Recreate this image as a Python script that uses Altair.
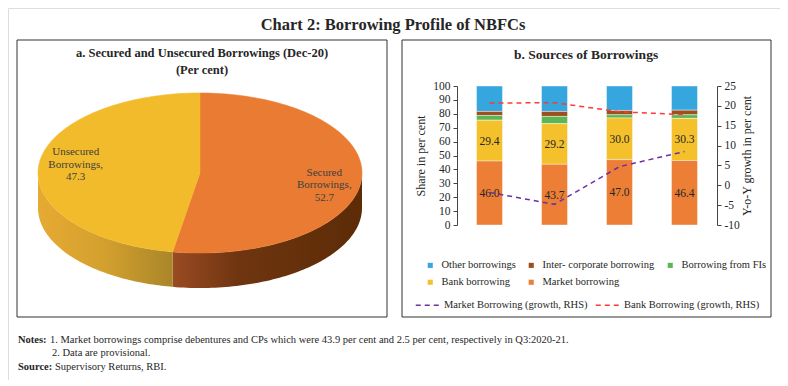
import altair as alt
import numpy as np
import pandas as pd

# ---------------- data ----------------
MONTHS = ["Mar-20", "Jun-20", "Sep-20", "Dec-20"]
SERIES = ["Other borrowings", "Inter- corporate borrowing", "Borrowing from FIs",
          "Bank borrowing", "Market borrowing"]
MARKET = [46.0, 43.7, 47.0, 46.4]
BANK = [29.4, 29.2, 30.0, 30.3]
FIS = [3.4, 5.2, 2.3, 2.6]
ICB = [2.9, 3.6, 3.1, 3.3]
OTHER = [18.3, 18.3, 17.6, 17.4]
LINE_NAMES = ["Market Borrowing (growth, RHS)", "Bank Borrowing (growth, RHS)"]
MKT_GROWTH = [-1.8, -4.8, 4.7, 8.5]
BANK_GROWTH = [20.7, 20.8, 18.5, 17.8]
PIE_NAMES = ["Secured\nBorrowings,", "Unsecured\nBorrowings,"]
PIE_VALUES = [52.7, 47.3]
LEFT_TICKS = list(range(0, 101, 10))
RIGHT_TICKS = list(range(-10, 26, 5))

# ---------------- style / layout ----------------
FONT = "Liberation Serif"
TXT = "#262626"
BAR_COLORS = ["#35a6de", "#9c4f20", "#5db653", "#f4c02c", "#ec7e36"]
LINE_COLORS = ["#7030a0", "#ff3838"]
PIE_TOP = ["#e97b33", "#f2bb2b"]
W, H = 772, 372
X0, X1, YT, YB = 449, 709, 78, 217
CX, CY, K = 192, 165, 162
RY, DEPTH = 0.494, 0.216

# ---------------- tables ----------------
cols = {"Other borrowings": OTHER, "Inter- corporate borrowing": ICB,
        "Borrowing from FIs": FIS, "Bank borrowing": BANK, "Market borrowing": MARKET}
stack_rank = {"Market borrowing": 1, "Bank borrowing": 2, "Borrowing from FIs": 3,
              "Inter- corporate borrowing": 4, "Other borrowings": 5}
bar_rows = []
for s in SERIES:
    for m, v in zip(MONTHS, cols[s]):
        bar_rows.append({"month": m, "series": s, "value": v, "rank": stack_rank[s]})
bar_df = pd.DataFrame(bar_rows)

lab_rows = []
for i, m in enumerate(MONTHS):
    lab_rows.append({"month": m, "mid": MARKET[i] / 2, "label": f"{MARKET[i]:.1f}"})
    lab_rows.append({"month": m, "mid": MARKET[i] + BANK[i] / 2, "label": f"{BANK[i]:.1f}"})
lab_df = pd.DataFrame(lab_rows)

line_rows = []
for name, vals in zip(LINE_NAMES, [MKT_GROWTH, BANK_GROWTH]):
    for i, (m, v) in enumerate(zip(MONTHS, vals)):
        line_rows.append({"month": m, "growth": v, "line": name, "idx": i})
line_df = pd.DataFrame(line_rows)

# ---------------- scales ----------------
def xs():
    return alt.Scale(type="band", domain=MONTHS, range=[X0, X1], paddingInner=0, paddingOuter=0)

def ys_left():
    return alt.Scale(domain=[0, 100], range=[YB, YT], nice=False)

def ys_right():
    return alt.Scale(domain=[-10, 25], range=[YB, YT], nice=False)

x_axis = alt.Axis(title=None, orient="bottom", offset=-(H - YB), labelAngle=0,
                  tickBand="extent", tickSize=4, labelPadding=3, labelFontSize=11.5,
                  labelFont=FONT, labelColor=TXT, domainColor="#444", tickColor="#444")

# ---------------- helpers ----------------
def text_at(txt, x, y, size, weight="normal", align="center"):
    return alt.Chart(pd.DataFrame({"t": [txt]})).mark_text(
        font=FONT, fontSize=size, fontWeight=weight, color=TXT, align=align, baseline="middle"
    ).encode(text="t:N", x=alt.value(x), y=alt.value(y))

def box(x1, x2, y1, y2):
    return alt.Chart(pd.DataFrame({"a": [0]})).mark_rect(
        filled=False, stroke="#333", strokeWidth=1
    ).encode(x=alt.value(x1), x2=alt.value(x2), y=alt.value(y1), y2=alt.value(y2))

def ept(t, drop=0.0):
    return [float(np.sin(t)), float(-RY * np.cos(t) + drop)]

def feature(ring):
    ring = ring + [ring[0]]
    return {"type": "Feature", "properties": {},
            "geometry": {"type": "Polygon", "coordinates": [ring]}}

proj = dict(type="identity", scale=K, translate=[CX, CY])

# ---------------- pie geometry from values ----------------
split = 2 * np.pi * PIE_VALUES[0] / sum(PIE_VALUES)
sec_top = feature([[0.0, 0.0]] + [ept(t) for t in np.linspace(0, split, 120)])
uns_top = feature([[0.0, 0.0]] + [ept(t) for t in np.linspace(split, 2 * np.pi, 120)])
a1 = np.linspace(np.pi / 2, split, 80)
sec_side = feature([ept(t) for t in a1] + [ept(t, DEPTH) for t in a1[::-1]])
a2 = np.linspace(split, 3 * np.pi / 2, 80)
uns_side = feature([ept(t) for t in a2] + [ept(t, DEPTH) for t in a2[::-1]])

def grad(stops):
    return alt.LinearGradient(gradient="linear", x1=0, x2=1, y1=0, y2=0,
                              stops=[alt.GradientStop(offset=o, color=c) for o, c in stops])

pie_layers = [
    alt.Chart(alt.Data(values=[sec_side])).mark_geoshape(
        fill=grad([(0, "#9a4b22"), (0.35, "#6e3510"), (1, "#5c2c06")]), strokeWidth=0
    ).project(**proj),
    alt.Chart(alt.Data(values=[uns_side])).mark_geoshape(
        fill=grad([(0, "#e6aa32"), (0.5, "#d3a02e"), (1, "#a9862a")]), strokeWidth=0
    ).project(**proj),
    alt.Chart(alt.Data(values=[sec_top])).mark_geoshape(
        fill=PIE_TOP[0], stroke=PIE_TOP[0], strokeWidth=0.5
    ).project(**proj),
    alt.Chart(alt.Data(values=[uns_top])).mark_geoshape(
        fill=PIE_TOP[1], stroke=PIE_TOP[1], strokeWidth=0.5
    ).project(**proj),
]

starts = [0.0, split]
ends = [split, 2 * np.pi]
dys = [-5.5, -15.5]
for name, val, a, b, dy in zip(PIE_NAMES, PIE_VALUES, starts, ends, dys):
    tm = (a + b) / 2
    lon, lat = ept(tm)
    d = pd.DataFrame({"t": [f"{name}\n{val:.1f}"], "lon": [lon * 0.77], "lat": [lat * 0.77]})
    pie_layers.append(
        alt.Chart(d).mark_text(font=FONT, fontSize=11, color="#404040", lineBreak="\n",
                               lineHeight=12.5, align="center", baseline="middle", dy=dy)
        .encode(longitude="lon:Q", latitude="lat:Q", text="t:N")
        .project(**proj)
    )

# ---------------- bars / lines ----------------
bars = alt.Chart(bar_df).mark_bar(
    width=alt.RelativeBandSize(0.4), stroke="#ffffff", strokeWidth=0.6, strokeOpacity=0.7
).encode(
    x=alt.X("month:N", sort=MONTHS, scale=xs(), axis=x_axis),
    y=alt.Y("value:Q", stack="zero", scale=ys_left(),
            axis=alt.Axis(orient="left", offset=-X0, values=LEFT_TICKS, title="Share in per cent",
                          tickSize=4, labelPadding=3, labelFontSize=11.5, labelFont=FONT,
                          labelColor=TXT, titleFont=FONT, titleFontSize=12, titleFontWeight="normal",
                          titleColor=TXT, titlePadding=5, domainColor="#444", tickColor="#444",
                          grid=False)),
    color=alt.Color("series:N", scale=alt.Scale(domain=SERIES, range=BAR_COLORS),
                    legend=alt.Legend(title=None, orient="none", legendX=417, legendY=252,
                                      direction="horizontal", columns=3, symbolType="square",
                                      symbolSize=26, symbolStrokeWidth=0, labelFont=FONT,
                                      labelFontSize=10.5, labelColor=TXT, labelOffset=6,
                                      columnPadding=10, rowPadding=6, padding=0,
                                      labelLimit=300)),
    order=alt.Order("rank:Q"),
)

bar_labels = alt.Chart(lab_df).mark_text(
    font=FONT, fontSize=11.5, color=TXT, baseline="middle", dy=1
).encode(
    x=alt.X("month:N", sort=MONTHS, scale=xs(), axis=None),
    y=alt.Y("mid:Q", scale=ys_left(), axis=None),
    text="label:N",
)

lines = alt.Chart(line_df).mark_line(strokeDash=[5, 4], strokeWidth=1.5).encode(
    x=alt.X("month:N", sort=MONTHS, scale=xs(), axis=None),
    y=alt.Y("growth:Q", scale=ys_right(),
            axis=alt.Axis(orient="right", offset=-(W - X1), values=RIGHT_TICKS,
                          labelExpr="'' + datum.value",
                          title="Y-o-Y growth in per cent", titleAngle=270, titleBaseline="top",
                          tickSize=4, labelPadding=3, labelFontSize=11.5, labelFont=FONT,
                          labelColor=TXT, titleFont=FONT, titleFontSize=12,
                          titleFontWeight="normal", titleColor=TXT, titlePadding=2,
                          domainColor="#444", tickColor="#444", grid=False)),
    stroke=alt.Stroke("line:N", scale=alt.Scale(domain=LINE_NAMES, range=LINE_COLORS),
                      legend=alt.Legend(title=None, orient="none", legendX=407, legendY=284,
                                        direction="horizontal", columns=2, symbolType="stroke",
                                        symbolSize=600, symbolStrokeWidth=1.5,
                                        symbolDash=[5, 4], labelFont=FONT, labelFontSize=10.5,
                                        labelColor=TXT, labelOffset=3, columnPadding=4,
                                        padding=0, labelLimit=300)),
    order=alt.Order("idx:Q"),
)

# ---------------- text / frames ----------------
frames = [
    box(9, 379, 32, 309),
    box(394, 763, 32, 309),
]
texts = [
    text_at("Chart 2: Borrowing Profile of NBFCs", 385, 17, 16.5, "bold"),
    text_at("a. Secured and Unsecured Borrowings (Dec-20)", 194, 45, 12.5, "bold"),
    text_at("(Per cent)", 194, 62, 12.5, "bold"),
    text_at("b. Sources of Borrowings", 578, 47, 13.5, "bold"),
    text_at("Notes:", 10, 332, 10.5, "bold", "left"),
    text_at("1. Market borrowings comprise debentures and CPs which were 43.9 per cent and "
            "2.5 per cent, respectively in Q3:2020-21.", 42, 332, 10.5, "normal", "left"),
    text_at("2. Data are provisional.", 44, 345, 10.5, "normal", "left"),
    text_at("Source:", 10, 359, 10.5, "bold", "left"),
    text_at("Supervisory Returns, RBI.", 47, 359, 10.5, "normal", "left"),
]

chart = alt.layer(
    *frames, *texts, *pie_layers, bars, bar_labels, lines
).resolve_scale(y="independent").properties(
    width=W, height=H, padding=0
).configure_view(stroke="#333", strokeWidth=1).configure(background="white")

chart.save("out.html", embed_options={"renderer": "svg", "actions": False})
